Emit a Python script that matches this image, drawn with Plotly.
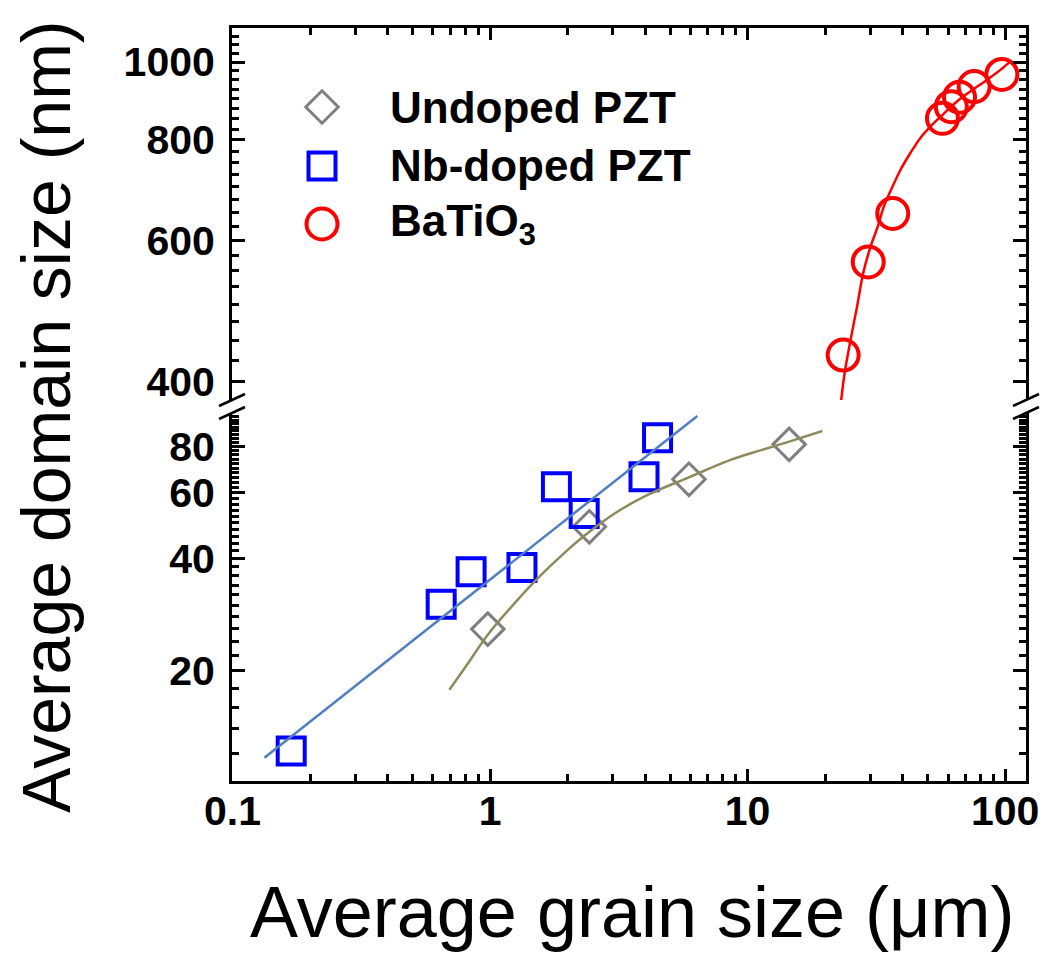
import plotly.graph_objects as go

# ---------------- data ----------------
undoped_x = [0.98, 2.43, 5.92, 14.5]
undoped_y = [25.9, 48.7, 65.3, 81.0]

nb_x = [0.169, 0.646, 0.844, 1.33, 1.81, 2.32, 3.96, 4.47]
nb_y = [12.2, 30.2, 36.9, 37.9, 62.4, 52.9, 66.3, 84.4]

bto_x = [23.5, 29.4, 36.6, 57.1, 61.8, 66.5, 75.8, 97.1]
bto_y = [432, 564, 648, 851, 880, 904, 932, 965]

# fitted curves
nb_fit_x = [0.133, 6.38]
nb_fit_y = [11.7, 96.5]
undoped_fit_x = [0.695, 0.795, 0.98, 1.21, 1.53, 1.94, 2.43, 3.13, 4.09, 5.92, 8.59, 11.6, 14.5, 19.5]
undoped_fit_y = [17.8, 20.3, 25.0, 29.7, 35.4, 41.4, 47.2, 53.5, 59.3, 66.1, 73.6, 78.6, 82.4, 88.0]
bto_fit_x = [22.9, 23.8, 25.1, 26.6, 28.1, 30.0, 32.0, 33.8, 35.8, 39.2, 42.8, 46.8, 52.0, 57.7, 65.0, 73.2, 84.9, 95.6, 104.6]
bto_fit_y = [371, 410, 451, 496, 546, 589, 624, 661, 690, 734, 770, 804, 835, 862, 893, 919, 950, 977, 1001]

x_ticks = [0.1, 1, 10, 100]
x_ticktext = ["0.1", "1", "10", "100"]
y_low_ticks = [20, 40, 60, 80]
y_high_ticks = [400, 600, 800, 1000]

legend_names = ["Undoped PZT", "Nb-doped PZT", "BaTiO<sub>3</sub>"]

# ---------------- layout geometry (screen pixels) ----------------
VW, VH = 1050, 969          # browser viewport
OFF = 8                     # default body margin of the html page
W, H = VW - OFF, VH - OFF   # figure size so that it fits the viewport
PL, PR, PT, PB = 232, 1026, 28, 781   # plot area in screen pixels
pw, ph = PR - PL, PB - PT


def pxp(px):
    return (px - PL) / pw


def pyp(py):
    return (PB - py) / ph


LOW_TOP, HIGH_BOT = 413, 400

x_minor = [m * d for d in (0.1, 1, 10) for m in range(2, 10)]
y_low_minor = [v for v in range(10, 100, 2) if v not in y_low_ticks]
y_high_minor = [v for v in range(375, 1101, 25) if v not in y_high_ticks]

FONT = "Liberation Sans, Arial, sans-serif"
tickfont = dict(family=FONT, size=41, color="black", weight="bold")

GRAY, BLUE, RED = "#7f7f7f", "#0000ff", "#ff0000"
BLUE_LINE, OLIVE_LINE = "#4f7fbf", "#8f8a5c"

DIA = ("diamond-open", 25, GRAY, 3)
SQR = ("square-open", 27, BLUE, 4)
CIR = ("circle-open", 31, RED, 4)


def mk(spec):
    sym, sz, col, lw = spec
    return dict(symbol=sym, size=sz, color=col, line=dict(width=lw, color=col))


fig = go.Figure()

# markers
fig.add_trace(go.Scatter(x=undoped_x, y=undoped_y, mode="markers", xaxis="x", yaxis="y",
                         marker=mk(DIA), name="Undoped PZT", showlegend=False))
fig.add_trace(go.Scatter(x=nb_x, y=nb_y, mode="markers", xaxis="x", yaxis="y",
                         marker=mk(SQR), name="Nb-doped PZT", showlegend=False))
fig.add_trace(go.Scatter(x=bto_x, y=bto_y, mode="markers", xaxis="x2", yaxis="y2",
                         marker=mk(CIR), name="BaTiO3", showlegend=False))

# fit lines
fig.add_trace(go.Scatter(x=nb_fit_x, y=nb_fit_y, mode="lines", xaxis="x", yaxis="y",
                         line=dict(color=BLUE_LINE, width=2.5), showlegend=False, hoverinfo="skip"))
fig.add_trace(go.Scatter(x=undoped_fit_x, y=undoped_fit_y, mode="lines", xaxis="x", yaxis="y",
                         line=dict(color=OLIVE_LINE, width=2.5, shape="spline"), showlegend=False, hoverinfo="skip"))
fig.add_trace(go.Scatter(x=bto_fit_x, y=bto_fit_y, mode="lines", xaxis="x2", yaxis="y2",
                         line=dict(color=RED, width=2.5, shape="spline"), showlegend=False, hoverinfo="skip"))

# manual legend (symbols on an invisible overlay axis spanning the plot area)
leg_px = 322
leg_py = [107, 166, 224]
for spec, py in zip((DIA, SQR, CIR), leg_py):
    fig.add_trace(go.Scatter(x=[pxp(leg_px)], y=[pyp(py)], mode="markers", xaxis="x3", yaxis="y3",
                             marker=mk(spec), showlegend=False, hoverinfo="skip"))

common_axis = dict(showline=True, linecolor="black", linewidth=3, ticks="inside", tickcolor="black",
                   tickwidth=2.5, showgrid=False, zeroline=False, type="log")
XRANGE = [-1.002, 2.081]

fig.update_layout(
    width=W, height=H,
    margin=dict(l=PL - OFF, r=VW - PR, t=PT - OFF, b=VH - PB, autoexpand=False),
    paper_bgcolor="white", plot_bgcolor="rgba(0,0,0,0)",
    showlegend=False,
    xaxis=dict(**common_axis, domain=[0, 1], anchor="y", range=XRANGE, ticklen=12,
               tickmode="array", tickvals=x_ticks, ticktext=x_ticktext, tickfont=tickfont,
               ticklabelstandoff=-8,
               minor=dict(tickmode="array", tickvals=x_minor, ticks="inside", ticklen=7,
                          tickwidth=2.5, tickcolor="black")),
    xaxis2=dict(**common_axis, domain=[0, 1], anchor="y2", side="top", range=XRANGE, ticklen=12,
                tickmode="array", tickvals=x_ticks, showticklabels=False,
                minor=dict(tickmode="array", tickvals=x_minor, ticks="inside", ticklen=7,
                           tickwidth=2.5, tickcolor="black")),
    yaxis=dict(**common_axis, domain=[0, pyp(LOW_TOP)], anchor="x", range=[1.006, 1.9926], ticklen=13,
               mirror="ticks", tickmode="array", tickvals=y_low_ticks,
               ticktext=[str(v) for v in y_low_ticks], tickfont=tickfont, ticklabelstandoff=6,
               minor=dict(tickmode="array", tickvals=y_low_minor, ticks="inside", ticklen=7,
                          tickwidth=2.5, tickcolor="black")),
    yaxis2=dict(**common_axis, domain=[pyp(HIGH_BOT), 1], anchor="x2", range=[2.5796, 3.0423], ticklen=13,
                mirror="ticks", tickmode="array", tickvals=y_high_ticks,
                ticktext=[str(v) for v in y_high_ticks], tickfont=tickfont, ticklabelstandoff=6,
                minor=dict(tickmode="array", tickvals=y_high_minor, ticks="inside", ticklen=7,
                           tickwidth=2.5, tickcolor="black")),
    xaxis3=dict(domain=[0, 1], anchor="y3", range=[0, 1], visible=False, fixedrange=True),
    yaxis3=dict(domain=[0, 1], anchor="x3", range=[0, 1], visible=False, fixedrange=True),
)

# axis-break marks on left and right axes
shapes = []
for ax_px in (PL, PR):
    for cy in (HIGH_BOT, LOW_TOP):
        shapes.append(dict(type="line", xref="paper", yref="paper",
                           x0=pxp(ax_px - 13), y0=pyp(cy + 6), x1=pxp(ax_px + 13), y1=pyp(cy - 6),
                           line=dict(color="black", width=2.5)))
fig.update_layout(shapes=shapes)

annotations = []
# axis titles
annotations.append(dict(text="Average grain size (\u03bcm)", xref="paper", yref="paper",
                        x=pxp(632), y=pyp(912), xanchor="center", yanchor="middle", showarrow=False,
                        font=dict(family=FONT, size=72, color="black")))
annotations.append(dict(text="Average domain size (nm)", xref="paper", yref="paper",
                        x=pxp(46), y=pyp(417), xanchor="center", yanchor="middle", showarrow=False,
                        textangle=-90, font=dict(family=FONT, size=68, color="black")))
# legend text
for name, py in zip(legend_names, leg_py):
    annotations.append(dict(text=name, xref="paper", yref="paper", x=pxp(388), y=pyp(py),
                            xanchor="left", yanchor="middle", showarrow=False,
                            font=dict(family=FONT, size=44, color="black", weight="bold")))
fig.update_layout(annotations=annotations)

fig.write_html("out.html")
